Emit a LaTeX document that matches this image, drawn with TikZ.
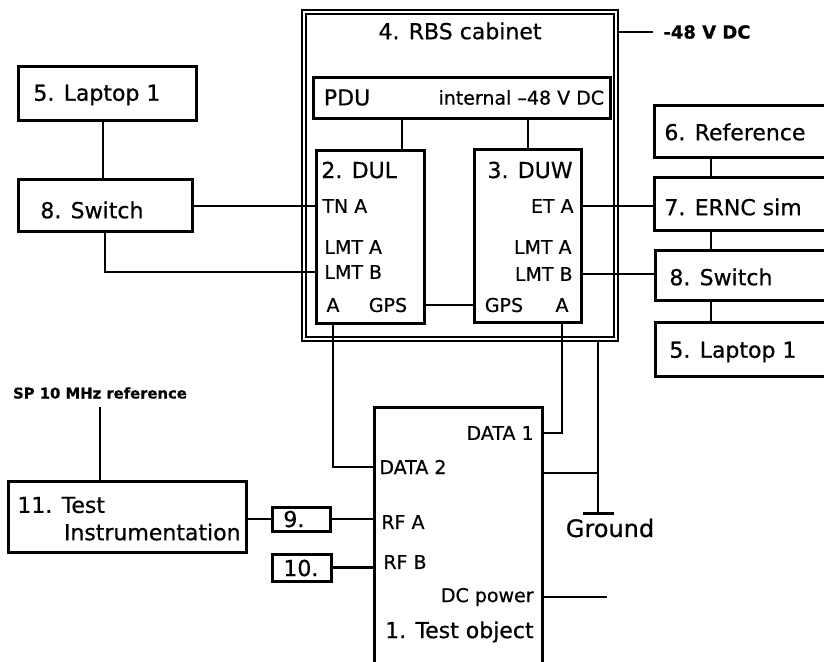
\documentclass[tikz,border=0pt]{standalone}
\usepackage{fontspec}
\setmainfont{DejaVu Sans}[FakeBold=0.6]
\usetikzlibrary{positioning, calc}

\begin{document}
\begin{tikzpicture}[x=0.5pt, y=-0.5pt,
        every node/.style={inner sep=0pt, font=\fontsize{11}{13}\selectfont},
        plainBox/.style={
                draw, rectangle, line width=1.5pt
            },
        cabinetBox/.style={
                draw, rectangle, double, double distance=1.1pt, line width=1pt
            },
        portLabel/.style={font=\fontsize{9.5}{11}\selectfont},
        smallLabel/.style={font=\bfseries\fontsize{7.4}{9}\selectfont},
        wire/.style={line width=1.2pt}
    ]
    \clip (0,0) rectangle (824,661);

    % RBS cabinet
    \node[cabinetBox, minimum width=156pt, minimum height=163.5pt] (cab) at (460,175.5) {};
    \node (cabTitle) at (460,31) {4. RBS cabinet};
    \node[plainBox, minimum width=148.5pt, minimum height=20.5pt] (pdu) at (461.5,97.5) {};
    \node[right=6pt of pdu.west] (pduName) {PDU};
    \node[portLabel, left=3.5pt of pdu.east] (pduVolt) {internal --48 V DC};

    % DUL
    \node[plainBox, minimum width=54pt, minimum height=86.5pt] (dul) at (370,236.5) {};
    \node[anchor=west] (dulName) at (321,170) {2. DUL};
    \node[portLabel, anchor=west] (dulTN) at (322,206) {TN A};
    \node[portLabel, anchor=west] (dulLMTA) at (324,247) {LMT A};
    \node[portLabel, anchor=west] (dulLMTB) at (324,272) {LMT B};
    \node[portLabel] (dulA) at (333,305) {A};
    \node[portLabel] (dulGPS) at (388,305) {GPS};

    % DUW
    \node[plainBox, minimum width=53.5pt, minimum height=86.5pt] (duw) at (527.5,235.5) {};
    \node[anchor=east] (duwName) at (573,170) {3. DUW};
    \node[portLabel, anchor=east] (duwET) at (574,206) {ET A};
    \node[portLabel, anchor=east] (duwLMTA) at (572,247) {LMT A};
    \node[portLabel, anchor=east] (duwLMTB) at (573,274) {LMT B};
    \node[portLabel] (duwGPS) at (504,305) {GPS};
    \node[portLabel] (duwA) at (562,305) {A};

    \coordinate (pduTapL) at (402,0);
    \coordinate (pduTapR) at (528,0);
    \draw[wire] (pduTapL |- pdu.south) -- (pduTapL |- dul.north);
    \draw[wire] (pduTapR |- pdu.south) -- (pduTapR |- duw.north);
    \draw[wire] (dulGPS -| dul.east) -- (duwGPS -| duw.west);

    % supply
    \coordinate (dcIn) at (653,32);
    \draw[wire] (dcIn -| cab.east) -- (dcIn);
    \node[anchor=west, font=\bfseries\fontsize{9}{11}\selectfont] (dcInLabel) at (663,32) {-48 V DC};

    % left side
    \node[plainBox, minimum width=89pt, minimum height=27pt] (lapL) at (107,93) {};
    \node[anchor=west] (lapLName) at (33,95) {5. Laptop 1};
    \node[plainBox, minimum width=87pt, minimum height=26pt] (swL) at (105,205) {};
    \node[anchor=west] (swLName) at (40,210) {8. Switch};
    \coordinate (leftBus) at (103,0);
    \draw[wire] (leftBus |- lapL.south) -- (leftBus |- swL.north);
    \draw[wire] (swL.east |- dulTN) -- (dulTN -| dul.west);
    \draw[wire] (swL.south) |- (dulLMTB -| dul.west);

    % right side
    \node[plainBox, minimum width=113pt, minimum height=26pt] (ref) at (767,131) {};
    \node[anchor=west] (refName) at (664,132) {6. Reference};
    \node[plainBox, minimum width=113pt, minimum height=26.5pt] (ernc) at (767,203.5) {};
    \node[anchor=west] (erncName) at (664,207) {7. ERNC sim};
    \node[plainBox, minimum width=112.5pt, minimum height=25pt] (swR) at (767.5,275) {};
    \node[anchor=west] (swRName) at (669,277) {8. Switch};
    \node[plainBox, minimum width=112.5pt, minimum height=27pt] (lapR) at (767.5,349) {};
    \node[anchor=west] (lapRName) at (669,352) {5. Laptop 1};
    \coordinate (rightBus) at (711,0);
    \draw[wire] (rightBus |- ref.south) -- (rightBus |- ernc.north);
    \draw[wire] (rightBus |- ernc.south) -- (rightBus |- swR.north);
    \draw[wire] (rightBus |- swR.south) -- (rightBus |- lapR.north);
    \draw[wire] (duwET -| duw.east) -- (duwET -| ernc.west);
    \draw[wire] (duwLMTB -| duw.east) -- (duwLMTB -| swR.west);

    % test object
    \node[plainBox, minimum width=84pt, minimum height=156.5pt] (test) at (458,563.5) {};
    \node[portLabel, anchor=east] (data1) at (534,433) {DATA 1};
    \node[portLabel, anchor=west] (data2) at (379,467) {DATA 2};
    \node[portLabel, anchor=west] (rfA) at (381,522) {RF A};
    \node[portLabel, anchor=west] (rfB) at (383,562) {RF B};
    \node[portLabel, anchor=east] (dcPow) at (534,597) {DC power};
    \node[anchor=east] (testName) at (534,632) {1. Test object};
    \draw[wire] (dulA |- dul.south) |- (data2 -| test.west);
    \draw[wire] (duwA |- duw.south) |- (data1 -| test.east);
    \coordinate (dcOut) at (607,597);
    \draw[wire] (dcOut -| test.east) -- (dcOut);

    % ground
    \coordinate (gnd) at (598,513);
    \coordinate (gndTap) at (598,473);
    \draw[wire] (gnd |- cab.south) -- (gnd);
    \draw[wire] (gndTap -| test.east) -- (gndTap);
    \draw[line width=1.5pt] ($(gnd)+(-15,0)$) -- ($(gnd)+(16,0)$);
    \node[font=\fontsize{12}{14}\selectfont] (gndLabel) at (610,528) {Ground};

    % test instrumentation
    \node[smallLabel] (spRef) at (100,393) {SP 10 MHz reference};
    \node[plainBox, minimum width=119pt, minimum height=35.5pt] (instr) at (127,516.5) {};
    \node[anchor=west] (instrName) at (17,505) {11. Test};
    \node[anchor=east] (instrName2) at (241,532) {Instrumentation};
    \node[plainBox, minimum width=29pt, minimum height=12pt] (att9) at (301,519) {};
    \node[anchor=west] at (283,519) {9.};
    \node[plainBox, minimum width=29.5pt, minimum height=13.5pt] (att10) at (301.5,567.5) {};
    \node[anchor=west] at (283,568) {10.};
    \draw[wire] ($(spRef.south)+(0,8)$) -- (spRef.south |- instr.north);
    \draw[wire] (instr.east |- att9) -- (att9.west);
    \draw[wire] (att9.east) -- (att9.east -| test.west);
    \draw[wire] (att10.east) -- (att10.east -| test.west);
\end{tikzpicture}
\end{document}
